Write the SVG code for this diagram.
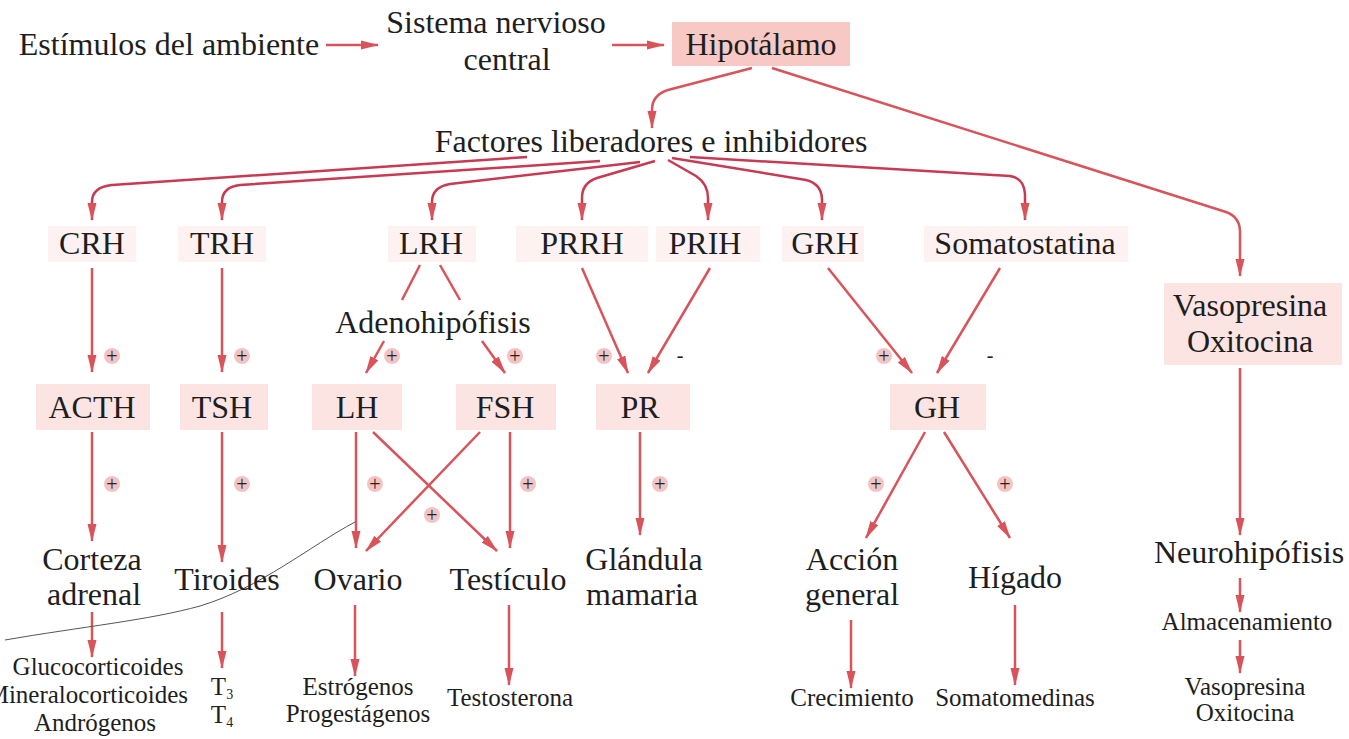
<svg xmlns="http://www.w3.org/2000/svg" width="1349" height="739" viewBox="0 0 1349 739">
<defs>
<marker id="ah" markerUnits="userSpaceOnUse" markerWidth="18" markerHeight="10" refX="17" refY="5" orient="auto">
<path d="M0,0.5 L18,5 L0,9.5 z" fill="#d8545a"/>
</marker>
<style>
.lbl{font-size:32px;fill:#1e1e1e;text-anchor:middle}
.sm{font-size:25px;fill:#1e1e1e;text-anchor:middle}
.sg{font-size:20px;fill:#222;text-anchor:middle}
.c{fill:none;stroke:#d8545a;stroke-width:2.5;marker-end:url(#ah)}
.fan{fill:none;stroke:#c83a52;stroke-width:2.5;marker-end:url(#ah)}
.ln{fill:none;stroke:#d8545a;stroke-width:2.5}
.hb{fill:#fbe4e2}
.fb{fill:#fdf2f1}
.pc{fill:#f4c4c4}
</style>
</defs>
<rect width="1349" height="739" fill="#ffffff"/>

<g id="connectors">
<path class="c" d="M326,45 L378,45"/>
<path class="c" d="M612,45 L664,45"/>
<path class="c" d="M752,68 L668,90 Q652,95 652,110 L652,128"/>
<path class="c" d="M772,68 L1226,212 Q1240,217 1240,232 L1240,276"/>
<path class="fan" d="M527,157 L112,185 Q92,187 92,202 L92,220"/>
<path class="fan" d="M600,161 L240,185 Q222,187 222,202 L222,220"/>
<path class="fan" d="M640,162 L450,184 Q432,187 432,202 L432,220"/>
<path class="fan" d="M655,161 L597,178 Q582,183 582,198 L582,220"/>
<path class="fan" d="M668,160 L696,176 Q708,184 708,198 L708,220"/>
<path class="fan" d="M672,158 L806,180 Q822,184 822,200 L822,220"/>
<path class="fan" d="M690,157 L1010,176 Q1024,178 1025,194 L1025,220"/>
<path class="c" d="M92,268 L92,372"/>
<path class="c" d="M222,268 L222,372"/>
<path class="ln" d="M420,265 L402,300"/>
<path class="ln" d="M440,265 L460,300"/>
<path class="c" d="M384,341 L366,373"/>
<path class="c" d="M482,341 L505,373"/>
<path class="c" d="M582,268 L628,373"/>
<path class="c" d="M710,268 L648,373"/>
<path class="c" d="M828,268 L912,373"/>
<path class="c" d="M1000,268 L937,373"/>
<path class="c" d="M1240,368 L1240,535"/>
<path class="c" d="M92,432 L92,541"/>
<path class="c" d="M222,432 L222,562"/>
<path class="c" d="M356,432 L356,548"/>
<path class="c" d="M373,432 L497,551"/>
<path class="c" d="M480,432 L366,551"/>
<path class="c" d="M510,432 L510,548"/>
<path class="c" d="M640,432 L640,535"/>
<path class="c" d="M925,432 L866,538"/>
<path class="c" d="M944,432 L1010,538"/>
<path class="c" d="M92,612 L92,657"/>
<path class="c" d="M222,612 L222,668"/>
<path class="c" d="M355,605 L355,676"/>
<path class="c" d="M509,605 L509,685"/>
<path class="c" d="M851,620 L851,688"/>
<path class="c" d="M1015,605 L1015,685"/>
<path class="c" d="M1240,578 L1240,612"/>
<path class="c" d="M1240,640 L1240,673"/>
</g>

<path d="M5,640 C80,627 150,620 200,606 C260,588 310,546 355,522" fill="none" stroke="#555" stroke-width="1"/>

<g font-family="'Liberation Serif', 'DejaVu Serif', serif">
<g id="signs">
<circle class="pc" cx="112" cy="356" r="8"/><text class="sg" x="112" y="363">+</text>
<circle class="pc" cx="242" cy="356" r="8"/><text class="sg" x="242" y="363">+</text>
<circle class="pc" cx="392" cy="356" r="8"/><text class="sg" x="392" y="363">+</text>
<circle class="pc" cx="515" cy="356" r="8"/><text class="sg" x="515" y="363">+</text>
<circle class="pc" cx="604" cy="356" r="8"/><text class="sg" x="604" y="363">+</text>
<text class="sg" x="680" y="362">-</text>
<circle class="pc" cx="884" cy="356" r="8"/><text class="sg" x="884" y="363">+</text>
<text class="sg" x="990" y="362">-</text>
<circle class="pc" cx="112" cy="484" r="8"/><text class="sg" x="112" y="491">+</text>
<circle class="pc" cx="242" cy="484" r="8"/><text class="sg" x="242" y="491">+</text>
<circle class="pc" cx="375" cy="484" r="8"/><text class="sg" x="375" y="491">+</text>
<circle class="pc" cx="528" cy="484" r="8"/><text class="sg" x="528" y="491">+</text>
<circle class="pc" cx="432" cy="515" r="8"/><text class="sg" x="432" y="522">+</text>
<circle class="pc" cx="660" cy="484" r="8"/><text class="sg" x="660" y="491">+</text>
<circle class="pc" cx="876" cy="484" r="8"/><text class="sg" x="876" y="491">+</text>
<circle class="pc" cx="1005" cy="484" r="8"/><text class="sg" x="1005" y="491">+</text>
</g>

<g id="estimulos"><text class="lbl" x="169" y="55">Estímulos del ambiente</text></g>
<g id="snc"><text class="lbl" x="496" y="33">Sistema nervioso</text><text class="lbl" x="507" y="70">central</text></g>
<g id="hipotalamo"><rect x="672" y="22" width="178" height="44" fill="#f7c8c4"/><text class="lbl" x="761" y="55">Hipotálamo</text></g>
<g id="factores"><text class="lbl" x="651" y="152">Factores liberadores e inhibidores</text></g>

<g id="crh"><rect class="fb" x="48" y="226" width="88" height="36"/><text class="lbl" x="92" y="254">CRH</text></g>
<g id="trh"><rect class="fb" x="178" y="226" width="88" height="36"/><text class="lbl" x="222" y="254">TRH</text></g>
<g id="lrh"><rect class="fb" x="388" y="226" width="88" height="36"/><text class="lbl" x="431" y="254">LRH</text></g>
<g id="prrh"><rect class="fb" x="516" y="226" width="132" height="36"/><text class="lbl" x="582" y="254">PRRH</text></g>
<g id="prih"><rect class="fb" x="656" y="226" width="104" height="36"/><text class="lbl" x="705" y="254">PRIH</text></g>
<g id="grh"><rect class="fb" x="782" y="226" width="82" height="36"/><text class="lbl" x="825" y="254">GRH</text></g>
<g id="somatostatina"><rect class="fb" x="924" y="226" width="204" height="36"/><text class="lbl" x="1025" y="254">Somatostatina</text></g>

<g id="adenohipofisis"><text class="lbl" x="433" y="333">Adenohipófisis</text></g>

<g id="acth"><rect class="hb" x="36" y="384" width="114" height="46"/><text class="lbl" x="92" y="418">ACTH</text></g>
<g id="tsh"><rect class="hb" x="180" y="384" width="88" height="46"/><text class="lbl" x="222" y="418">TSH</text></g>
<g id="lh"><rect class="hb" x="312" y="384" width="90" height="46"/><text class="lbl" x="357" y="418">LH</text></g>
<g id="fsh"><rect class="hb" x="456" y="384" width="100" height="46"/><text class="lbl" x="505" y="418">FSH</text></g>
<g id="pr"><rect class="hb" x="596" y="384" width="94" height="46"/><text class="lbl" x="640" y="418">PR</text></g>
<g id="gh"><rect class="hb" x="890" y="384" width="96" height="46"/><text class="lbl" x="937" y="418">GH</text></g>
<g id="vasopresina-oxitocina"><rect class="hb" x="1164" y="283" width="178" height="82"/><text class="lbl" x="1250" y="316">Vasopresina</text><text class="lbl" x="1250" y="352">Oxitocina</text></g>

<g id="corteza"><text class="lbl" x="92" y="570">Corteza</text><text class="lbl" x="94" y="605">adrenal</text></g>
<g id="tiroides"><text class="lbl" x="227" y="590">Tiroides</text></g>
<g id="ovario"><text class="lbl" x="358" y="590">Ovario</text></g>
<g id="testiculo"><text class="lbl" x="508" y="590">Testículo</text></g>
<g id="glandula"><text class="lbl" x="644" y="570">Glándula</text><text class="lbl" x="642" y="605">mamaria</text></g>
<g id="accion"><text class="lbl" x="852" y="570">Acción</text><text class="lbl" x="852" y="605">general</text></g>
<g id="higado"><text class="lbl" x="1015" y="588">Hígado</text></g>
<g id="neurohipofisis"><text class="lbl" x="1249" y="563">Neurohipófisis</text></g>
<g id="almacenamiento"><text class="sm" x="1247" y="630">Almacenamiento</text></g>

<g id="corticoides"><text class="sm" x="98" y="675">Glucocorticoides</text><text class="sm" x="188" y="703" style="text-anchor:end">Mineralocorticoides</text><text class="sm" x="95" y="731">Andrógenos</text></g>
<g id="t3t4"><text class="sm" x="222" y="695">T<tspan font-size="14" dy="4">3</tspan></text><text class="sm" x="222" y="723">T<tspan font-size="14" dy="4">4</tspan></text></g>
<g id="estrogenos"><text class="sm" x="358" y="695">Estrógenos</text><text class="sm" x="358" y="722">Progestágenos</text></g>
<g id="testosterona"><text class="sm" x="510" y="706">Testosterona</text></g>
<g id="crecimiento"><text class="sm" x="852" y="706">Crecimiento</text></g>
<g id="somatomedinas"><text class="sm" x="1015" y="706">Somatomedinas</text></g>
<g id="vaso-oxi"><text class="sm" x="1245" y="695">Vasopresina</text><text class="sm" x="1245" y="721">Oxitocina</text></g>
</g>
</svg>
